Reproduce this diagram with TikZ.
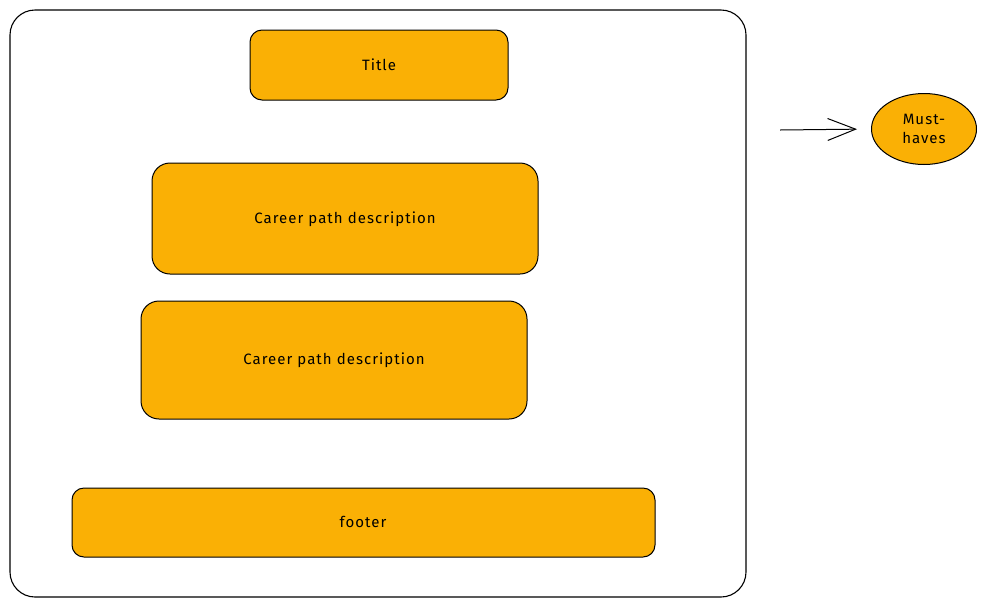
\documentclass[tikz,border=0pt]{standalone}
\usepackage{fontspec}
\setmainfont[LetterSpace=7]{Fira Sans}
\usetikzlibrary{arrows.meta,shapes.geometric}
\definecolor{boxfill}{HTML}{FAB005}
\tikzset{
  block/.style={draw=black, line width=1pt, fill=boxfill, rounded corners=#1},
  frame/.style={draw=black, line width=1.1pt, rounded corners=25pt},
  lbl/.style={font=\fontsize{15pt}{19pt}\selectfont, text=black}
}
\begin{document}
\begin{tikzpicture}[x=1pt,y=-1pt]
\useasboundingbox (0,0) rectangle (988,606);
\draw[frame] (10,10) rectangle (746,597);
\draw[block=12pt] (250,30) rectangle (508,100);
\node[lbl] (title) at (379,65) {Title};
\draw[block=18pt] (152,163) rectangle (538,274);
\node[lbl] (cp1) at (345,219) {Career path description};
\draw[block=18pt] (141,301) rectangle (527,419);
\node[lbl] (cp2) at (334,360) {Career path description};
\draw[block=12pt] (72,488) rectangle (655,557);
\node[lbl] (footer) at (363,522) {footer};
\node[draw=black, line width=1pt, fill=boxfill, ellipse, minimum width=105pt, minimum height=71pt, inner sep=0pt, lbl, align=center] (must) at (924,129) {Must-\\haves};
\coordinate (astart) at (780,130);
\draw[line width=1pt, shorten >=14pt, -{Straight Barb[length=28pt,width=22pt]}] (astart) -- (must.west);
\end{tikzpicture}
\end{document}
